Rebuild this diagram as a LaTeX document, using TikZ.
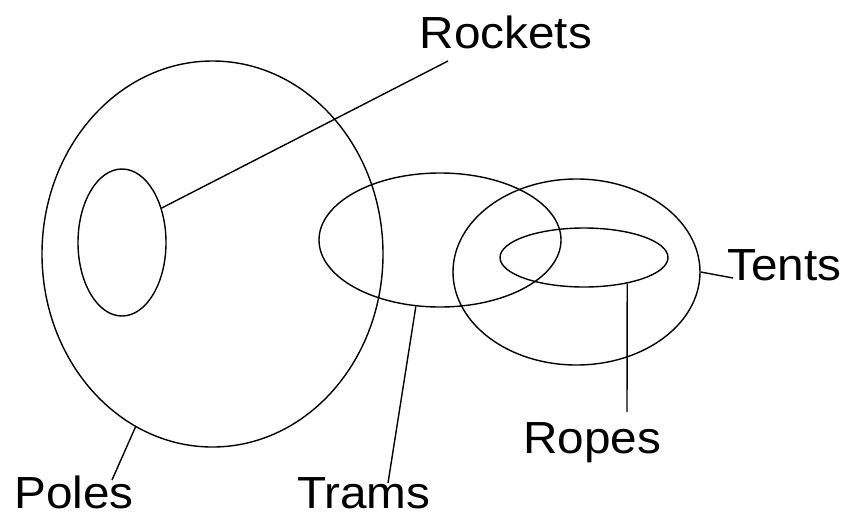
\documentclass[tikz,border=0pt]{standalone}
\usepackage{fontspec}
\setmainfont{Liberation Sans}[FakeStretch=1.06]
\usetikzlibrary{shapes.geometric}
\begin{document}
\begin{tikzpicture}[x=1pt,y=-1pt,
  set/.style={draw,ellipse,inner sep=0pt,line width=1.4pt},
  lbl/.style={inner sep=0pt,anchor=base west,font=\fontsize{45}{54}\selectfont},
  con/.style={line width=1.4pt}]
\useasboundingbox (0,0) rectangle (850,520);
\node[set,minimum width=341pt,minimum height=386pt] (poles) at (212.5,254) {};
\node[set,minimum width=88pt,minimum height=147pt] (rockets) at (122,242.5) {};
\node[set,minimum width=242pt,minimum height=134pt] (trams) at (440,240) {};
\node[set,minimum width=247pt,minimum height=186pt] (tents) at (576.5,272) {};
\node[set,minimum width=168pt,minimum height=59pt] (ropes) at (584,257.5) {};
\node[lbl] (lrockets) at (419.5,48) {Rockets};
\node[lbl] (lpoles) at (14,508) {Poles};
\node[lbl] (ltrams) at (297,508) {Trams};
\node[lbl] (lropes) at (523,453) {Ropes};
\node[lbl] (ltents) at (727,280) {Tents};
\coordinate (crockets) at (448,61);
\coordinate (cpoles) at (112,480);
\coordinate (ctrams) at (388,483);
\coordinate (cropes) at (627,412);
\coordinate (ctents) at (733,278);
\draw[con] (rockets.41) -- (crockets);
\draw[con] (poles.246.5) -- (cpoles);
\draw[con] (trams.250.7) -- (ctrams);
\draw[con] (ropes.329.5) -- (cropes);
\draw[con] (tents.east) -- (ctents);
\end{tikzpicture}
\end{document}
